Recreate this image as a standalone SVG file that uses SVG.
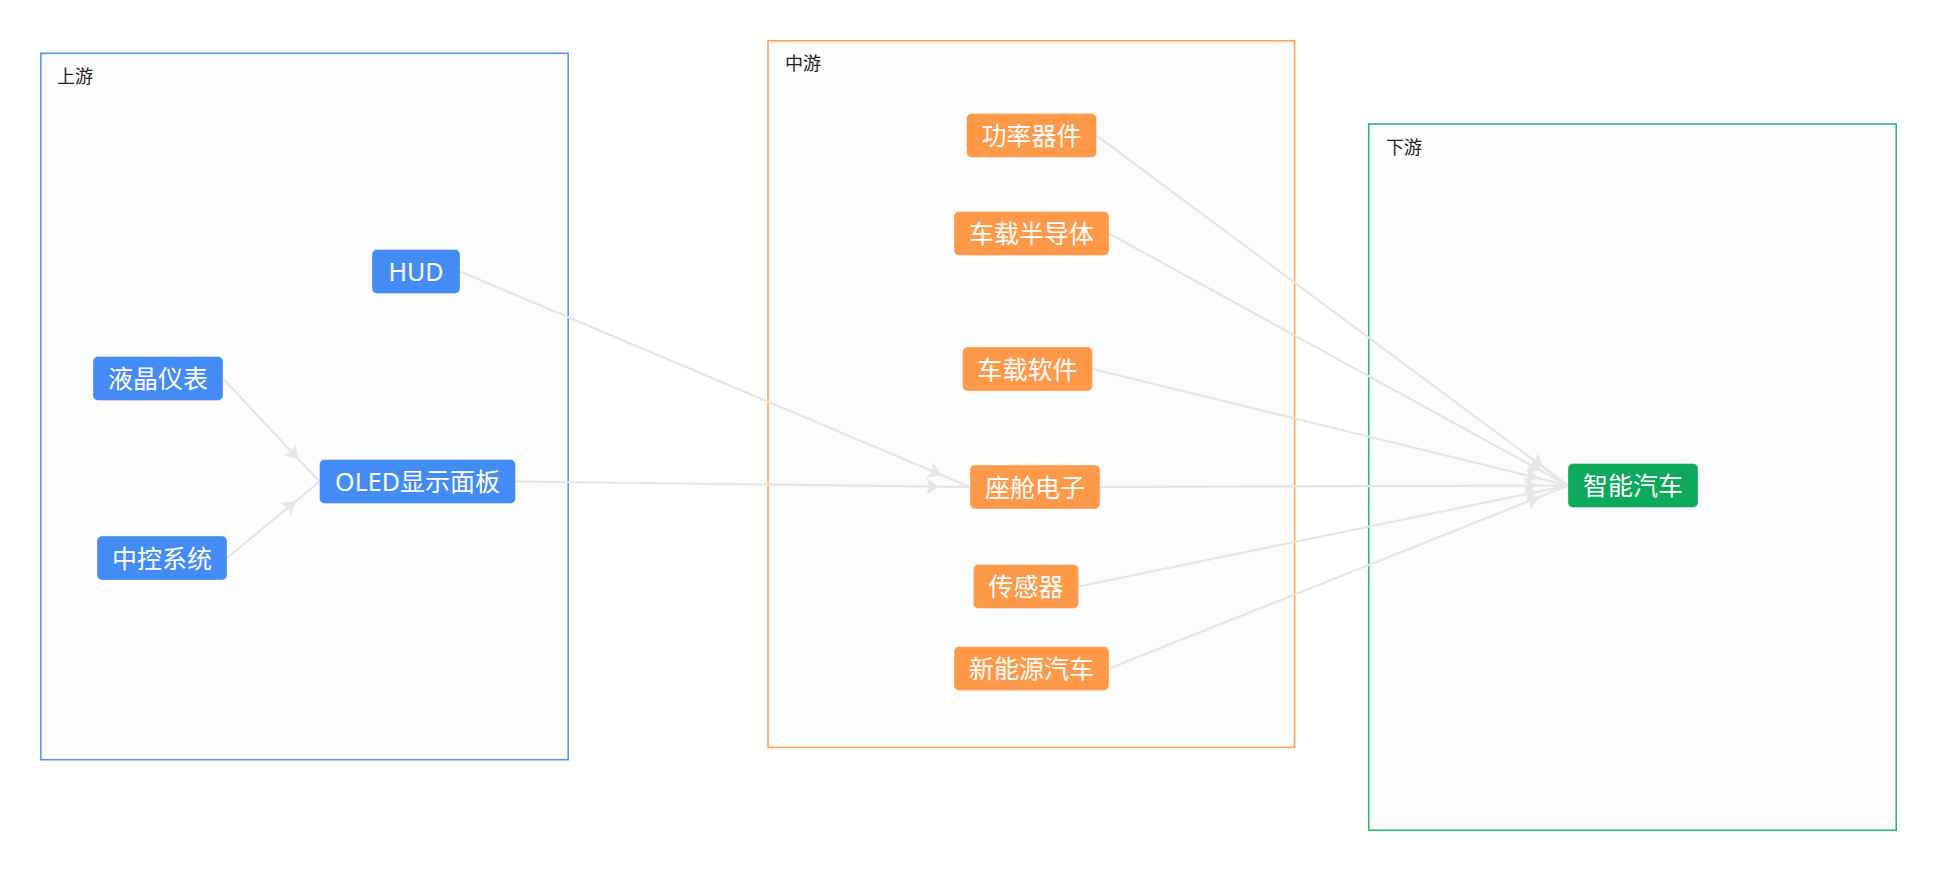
<svg xmlns="http://www.w3.org/2000/svg" width="1937" height="872" viewBox="0 0 1937 872">
<style>
.grp{fill:#fcfcfc;stroke-width:1.6}
.glabel{font-family:"Noto Sans CJK SC","Noto Sans",sans-serif;font-size:18px;fill:#222}
.node rect{stroke:rgba(255,255,255,0.35);stroke-width:1}
.node text{font-family:"Noto Sans","Noto Sans CJK SC",sans-serif;font-size:25px;fill:#ffffff;text-anchor:middle;dominant-baseline:central}
.blue rect{fill:#458bf5}
.orange rect{fill:#ff994a}
.green rect{fill:#0caa5a}
.edge{fill:none;stroke:#e6e6e6;stroke-width:2.2;marker-mid:url(#arr)}
</style>
<defs>
<marker id="arr" markerUnits="userSpaceOnUse" markerWidth="30" markerHeight="30" viewBox="-15 -15 30 30" refX="0" refY="0" orient="auto" overflow="visible">
<path d="M0,0 L-13,-8.7 L-9.75,0 L-13,8.7 Z" fill="#e6e6e6"/>
</marker>
</defs>
<rect width="1937" height="872" fill="#ffffff"/>
<g id="group-upstream">
<rect class="grp" x="40.8" y="53.3" width="527.4" height="706.4" stroke="#5b94f2"/>
<text class="glabel" x="57" y="82.8">上游</text>
</g>
<g id="group-midstream">
<rect class="grp" x="768" y="40.8" width="526.6" height="706.6" stroke="#ffa25a"/>
<text class="glabel" x="785" y="70.2">中游</text>
</g>
<g id="group-downstream">
<rect class="grp" x="1368.7" y="124" width="527.5" height="706.3" stroke="#2fb673"/>
<text class="glabel" x="1386" y="153.5">下游</text>
</g>
<g id="connectors">
<path class="edge" d="M223,378.5 L298.3,458.9 L319.5,481.5"/>
<path class="edge" d="M227,558 L295.6,501.3 L319.5,481.5"/>
<path class="edge" d="M460,271.5 L941.4,474.9 L970,487"/>
<path class="edge" d="M515.5,481.5 L939,486.6 L970,487"/>
<path class="edge" d="M1096.5,135.5 L1543.1,467 L1568,485.5"/>
<path class="edge" d="M1109,233.5 L1540.8,470.6 L1568,485.5"/>
<path class="edge" d="M1092.5,369 L1537.9,478.1 L1568,485.5"/>
<path class="edge" d="M1100,487 L1537,485.6 L1568,485.5"/>
<path class="edge" d="M1078.5,586.5 L1537.6,491.8 L1568,485.5"/>
<path class="edge" d="M1109,668.5 L1539.2,497 L1568,485.5"/>
</g>
<g id="node-hud" class="node blue"><rect x="372" y="249.5" width="88" height="44" rx="5"/><text x="416" y="271">HUD</text></g>
<g id="node-lcd" class="node blue"><rect x="93" y="356.5" width="130" height="44" rx="5"/><text x="158" y="378">液晶仪表</text></g>
<g id="node-oled" class="node blue"><rect x="319.5" y="459.5" width="196" height="44" rx="5"/><text x="417.5" y="481">OLED显示面板</text></g>
<g id="node-center" class="node blue"><rect x="97" y="536" width="130" height="44" rx="5"/><text x="162" y="557.5">中控系统</text></g>
<g id="node-power" class="node orange"><rect x="966.5" y="113.5" width="130" height="44" rx="5"/><text x="1031.5" y="135">功率器件</text></g>
<g id="node-semi" class="node orange"><rect x="954" y="211.5" width="155" height="44" rx="5"/><text x="1031.5" y="233">车载半导体</text></g>
<g id="node-software" class="node orange"><rect x="962.5" y="347" width="130" height="44" rx="5"/><text x="1027.5" y="368.5">车载软件</text></g>
<g id="node-cockpit" class="node orange"><rect x="970" y="465" width="130" height="44" rx="5"/><text x="1035" y="486.5">座舱电子</text></g>
<g id="node-sensor" class="node orange"><rect x="973.5" y="564.5" width="105" height="44" rx="5"/><text x="1026" y="586">传感器</text></g>
<g id="node-nev" class="node orange"><rect x="954" y="646.5" width="155" height="44" rx="5"/><text x="1031.5" y="668">新能源汽车</text></g>
<g id="node-smartcar" class="node green"><rect x="1568" y="463.5" width="130" height="44" rx="5"/><text x="1633" y="485">智能汽车</text></g>
</svg>
